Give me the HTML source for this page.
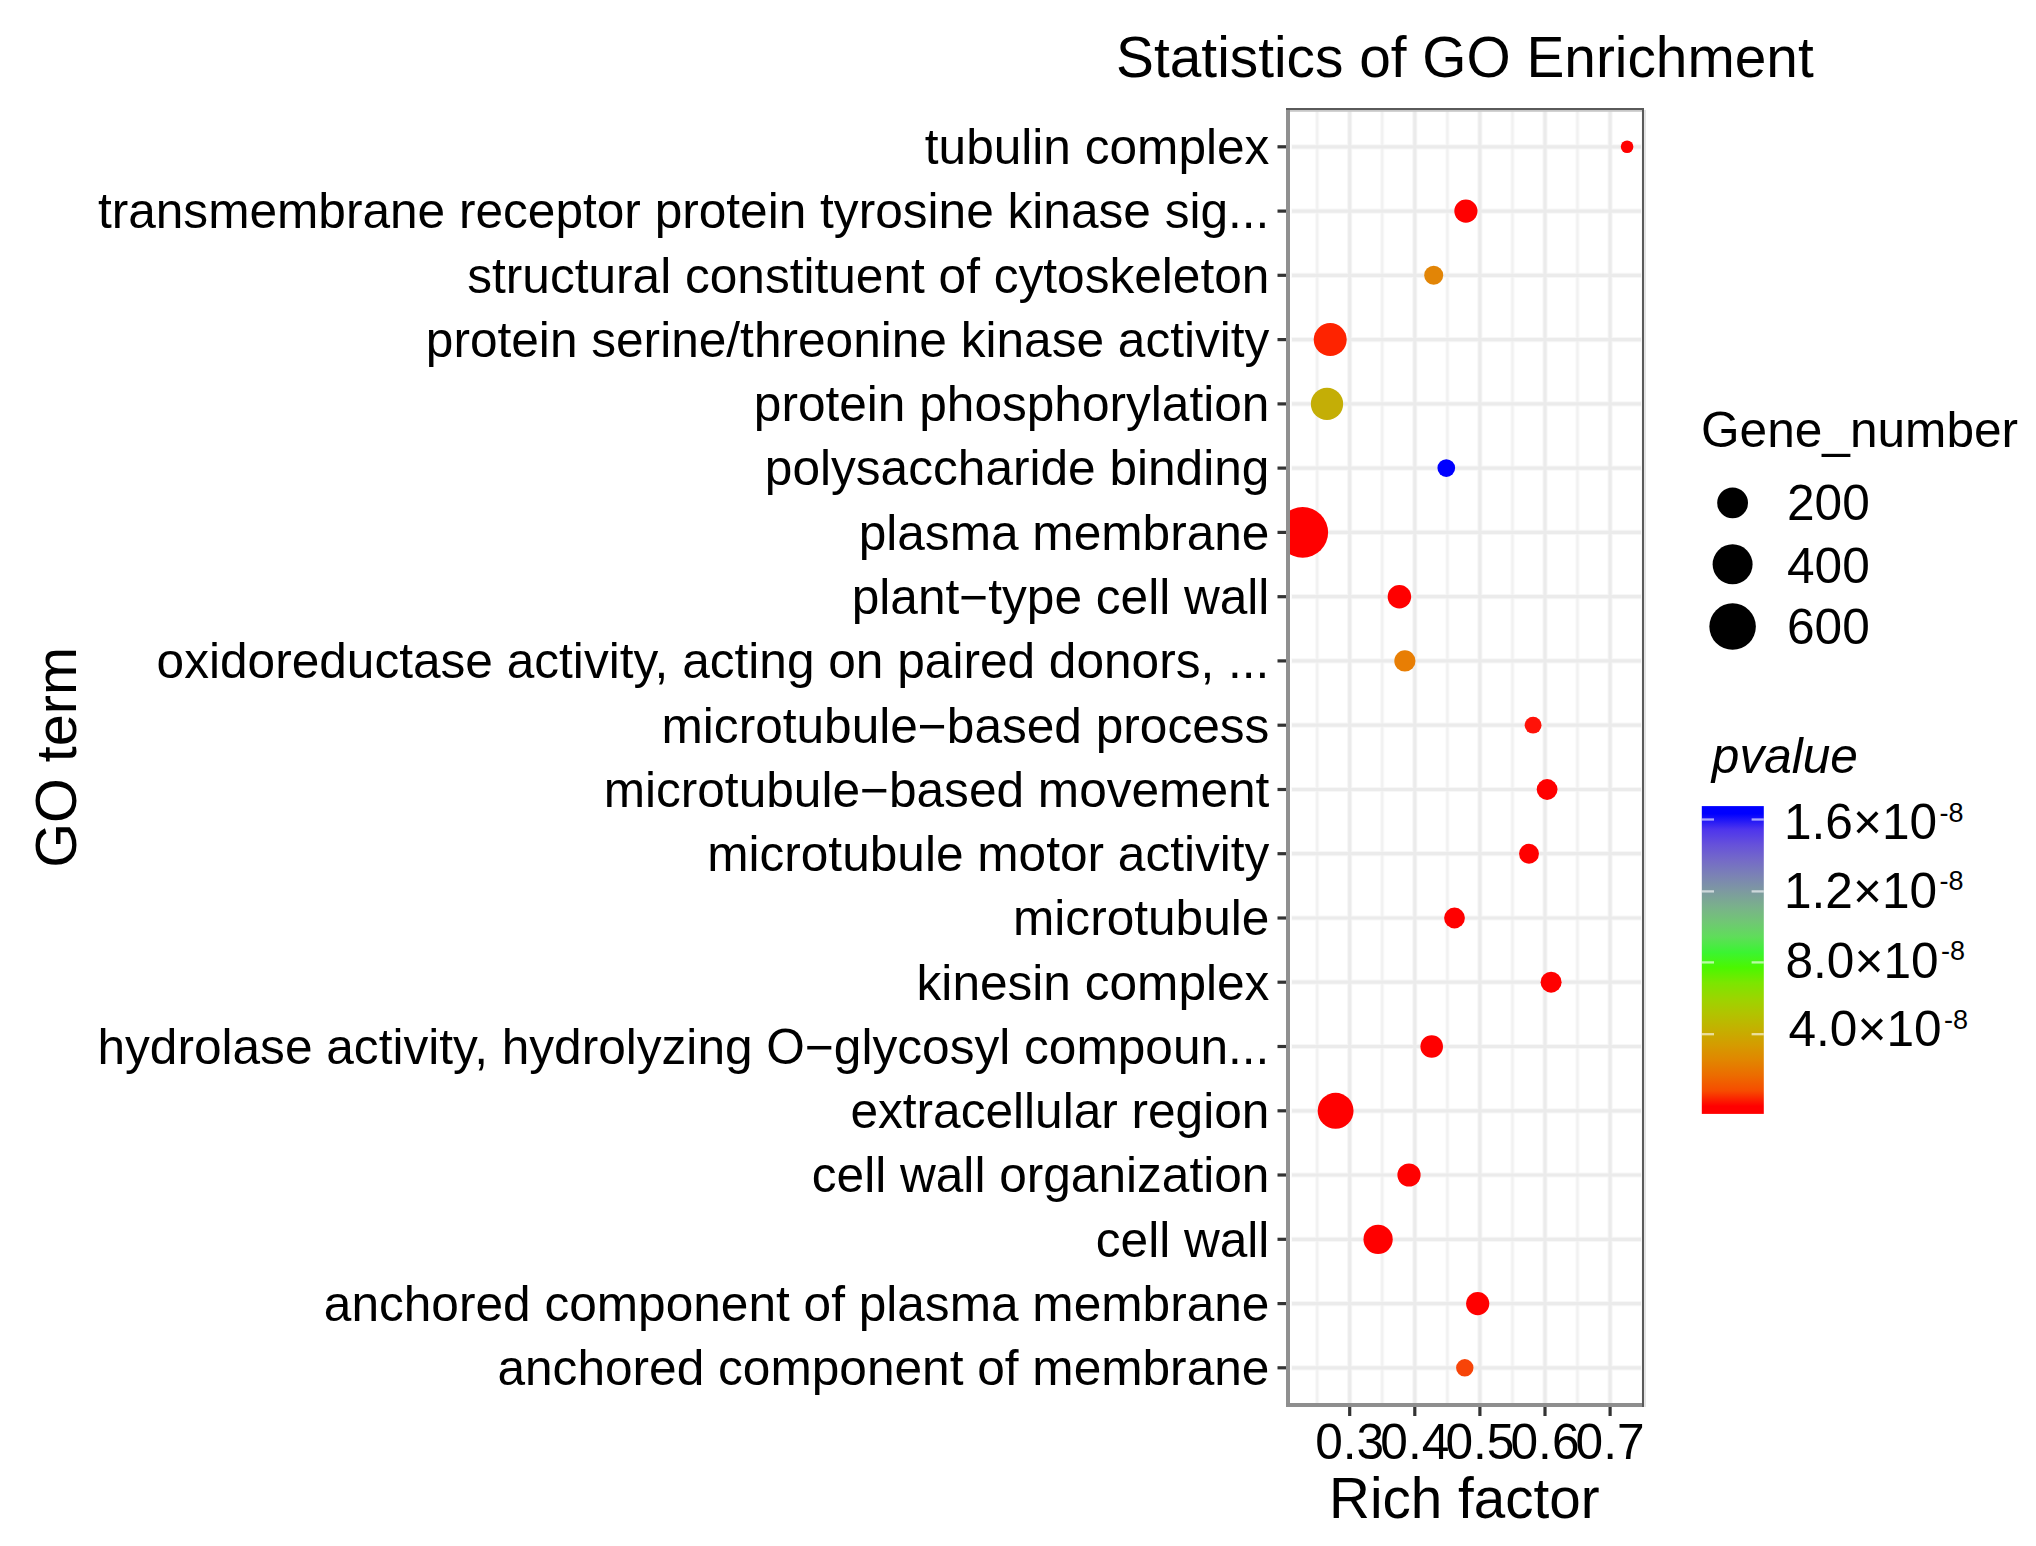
<!DOCTYPE html>
<html lang="en"><head><meta charset="utf-8"><title>Statistics of GO Enrichment</title>
<style>html,body{margin:0;padding:0;background:#fff}body{width:2036px;height:1546px;overflow:hidden}svg{display:block}text{font-family:"Liberation Sans", Arial, sans-serif;fill:#000}</style>
</head><body>
<svg width="2036" height="1546" viewBox="0 0 2036 1546">
<rect width="2036" height="1546" fill="#fff"/>
<defs><clipPath id="pc"><rect x="1288.0" y="109.5" width="355.0" height="1295.5"/></clipPath>
<linearGradient id="cb" x1="0" y1="1" x2="0" y2="0">
<stop offset="0.000" stop-color="#ff0000"/>
<stop offset="0.025" stop-color="#ff0000"/>
<stop offset="0.075" stop-color="#f64c00"/>
<stop offset="0.125" stop-color="#ec6c00"/>
<stop offset="0.175" stop-color="#e18600"/>
<stop offset="0.225" stop-color="#d49c00"/>
<stop offset="0.275" stop-color="#c4b000"/>
<stop offset="0.325" stop-color="#b2c300"/>
<stop offset="0.375" stop-color="#9bd500"/>
<stop offset="0.425" stop-color="#7ce600"/>
<stop offset="0.475" stop-color="#4bf700"/>
<stop offset="0.525" stop-color="#3bf432"/>
<stop offset="0.575" stop-color="#5fdd5a"/>
<stop offset="0.625" stop-color="#71c675"/>
<stop offset="0.675" stop-color="#7ab08c"/>
<stop offset="0.725" stop-color="#7d99a1"/>
<stop offset="0.775" stop-color="#7b82b5"/>
<stop offset="0.825" stop-color="#746ac8"/>
<stop offset="0.875" stop-color="#6651da"/>
<stop offset="0.925" stop-color="#4d34ed"/>
<stop offset="0.975" stop-color="#0000ff"/>
<stop offset="1.000" stop-color="#0000ff"/>
</linearGradient></defs>
<g fill="none">
<line x1="1317.2" x2="1317.2" y1="110.5" y2="1403.0" stroke="#f9f9f9" stroke-width="4.2"/>
<line x1="1382.2" x2="1382.2" y1="110.5" y2="1403.0" stroke="#f9f9f9" stroke-width="4.2"/>
<line x1="1447.4" x2="1447.4" y1="110.5" y2="1403.0" stroke="#f9f9f9" stroke-width="4.2"/>
<line x1="1512.5" x2="1512.5" y1="110.5" y2="1403.0" stroke="#f9f9f9" stroke-width="4.2"/>
<line x1="1577.5" x2="1577.5" y1="110.5" y2="1403.0" stroke="#f9f9f9" stroke-width="4.2"/>
<line x1="1349.7" x2="1349.7" y1="110.5" y2="1403.0" stroke="#f7f7f7" stroke-width="5.2"/>
<line x1="1414.8" x2="1414.8" y1="110.5" y2="1403.0" stroke="#f7f7f7" stroke-width="5.2"/>
<line x1="1479.9" x2="1479.9" y1="110.5" y2="1403.0" stroke="#f7f7f7" stroke-width="5.2"/>
<line x1="1545.0" x2="1545.0" y1="110.5" y2="1403.0" stroke="#f7f7f7" stroke-width="5.2"/>
<line x1="1610.1" x2="1610.1" y1="110.5" y2="1403.0" stroke="#f7f7f7" stroke-width="5.2"/>
<line x1="1291.5" x2="1641.5" y1="146.8" y2="146.8" stroke="#f7f7f7" stroke-width="5.2"/>
<line x1="1291.5" x2="1641.5" y1="211.1" y2="211.1" stroke="#f7f7f7" stroke-width="5.2"/>
<line x1="1291.5" x2="1641.5" y1="275.3" y2="275.3" stroke="#f7f7f7" stroke-width="5.2"/>
<line x1="1291.5" x2="1641.5" y1="339.6" y2="339.6" stroke="#f7f7f7" stroke-width="5.2"/>
<line x1="1291.5" x2="1641.5" y1="403.9" y2="403.9" stroke="#f7f7f7" stroke-width="5.2"/>
<line x1="1291.5" x2="1641.5" y1="468.1" y2="468.1" stroke="#f7f7f7" stroke-width="5.2"/>
<line x1="1291.5" x2="1641.5" y1="532.4" y2="532.4" stroke="#f7f7f7" stroke-width="5.2"/>
<line x1="1291.5" x2="1641.5" y1="596.7" y2="596.7" stroke="#f7f7f7" stroke-width="5.2"/>
<line x1="1291.5" x2="1641.5" y1="660.9" y2="660.9" stroke="#f7f7f7" stroke-width="5.2"/>
<line x1="1291.5" x2="1641.5" y1="725.2" y2="725.2" stroke="#f7f7f7" stroke-width="5.2"/>
<line x1="1291.5" x2="1641.5" y1="789.5" y2="789.5" stroke="#f7f7f7" stroke-width="5.2"/>
<line x1="1291.5" x2="1641.5" y1="853.7" y2="853.7" stroke="#f7f7f7" stroke-width="5.2"/>
<line x1="1291.5" x2="1641.5" y1="918.0" y2="918.0" stroke="#f7f7f7" stroke-width="5.2"/>
<line x1="1291.5" x2="1641.5" y1="982.2" y2="982.2" stroke="#f7f7f7" stroke-width="5.2"/>
<line x1="1291.5" x2="1641.5" y1="1046.5" y2="1046.5" stroke="#f7f7f7" stroke-width="5.2"/>
<line x1="1291.5" x2="1641.5" y1="1110.8" y2="1110.8" stroke="#f7f7f7" stroke-width="5.2"/>
<line x1="1291.5" x2="1641.5" y1="1175.0" y2="1175.0" stroke="#f7f7f7" stroke-width="5.2"/>
<line x1="1291.5" x2="1641.5" y1="1239.3" y2="1239.3" stroke="#f7f7f7" stroke-width="5.2"/>
<line x1="1291.5" x2="1641.5" y1="1303.6" y2="1303.6" stroke="#f7f7f7" stroke-width="5.2"/>
<line x1="1291.5" x2="1641.5" y1="1367.8" y2="1367.8" stroke="#f7f7f7" stroke-width="5.2"/>
<line x1="1317.2" x2="1317.2" y1="109.5" y2="1405.0" stroke="#f1f1f1" stroke-width="2.2"/>
<line x1="1382.2" x2="1382.2" y1="109.5" y2="1405.0" stroke="#f1f1f1" stroke-width="2.2"/>
<line x1="1447.4" x2="1447.4" y1="109.5" y2="1405.0" stroke="#f1f1f1" stroke-width="2.2"/>
<line x1="1512.5" x2="1512.5" y1="109.5" y2="1405.0" stroke="#f1f1f1" stroke-width="2.2"/>
<line x1="1577.5" x2="1577.5" y1="109.5" y2="1405.0" stroke="#f1f1f1" stroke-width="2.2"/>
<line x1="1642.7" x2="1642.7" y1="109.5" y2="1405.0" stroke="#f1f1f1" stroke-width="2.2"/>
<line x1="1349.7" x2="1349.7" y1="109.5" y2="1405.0" stroke="#ebebeb" stroke-width="3.2"/>
<line x1="1414.8" x2="1414.8" y1="109.5" y2="1405.0" stroke="#ebebeb" stroke-width="3.2"/>
<line x1="1479.9" x2="1479.9" y1="109.5" y2="1405.0" stroke="#ebebeb" stroke-width="3.2"/>
<line x1="1545.0" x2="1545.0" y1="109.5" y2="1405.0" stroke="#ebebeb" stroke-width="3.2"/>
<line x1="1610.1" x2="1610.1" y1="109.5" y2="1405.0" stroke="#ebebeb" stroke-width="3.2"/>
<line x1="1292.0" x2="1641.0" y1="146.8" y2="146.8" stroke="#ebebeb" stroke-width="3.2"/>
<line x1="1292.0" x2="1641.0" y1="211.1" y2="211.1" stroke="#ebebeb" stroke-width="3.2"/>
<line x1="1292.0" x2="1641.0" y1="275.3" y2="275.3" stroke="#ebebeb" stroke-width="3.2"/>
<line x1="1292.0" x2="1641.0" y1="339.6" y2="339.6" stroke="#ebebeb" stroke-width="3.2"/>
<line x1="1292.0" x2="1641.0" y1="403.9" y2="403.9" stroke="#ebebeb" stroke-width="3.2"/>
<line x1="1292.0" x2="1641.0" y1="468.1" y2="468.1" stroke="#ebebeb" stroke-width="3.2"/>
<line x1="1292.0" x2="1641.0" y1="532.4" y2="532.4" stroke="#ebebeb" stroke-width="3.2"/>
<line x1="1292.0" x2="1641.0" y1="596.7" y2="596.7" stroke="#ebebeb" stroke-width="3.2"/>
<line x1="1292.0" x2="1641.0" y1="660.9" y2="660.9" stroke="#ebebeb" stroke-width="3.2"/>
<line x1="1292.0" x2="1641.0" y1="725.2" y2="725.2" stroke="#ebebeb" stroke-width="3.2"/>
<line x1="1292.0" x2="1641.0" y1="789.5" y2="789.5" stroke="#ebebeb" stroke-width="3.2"/>
<line x1="1292.0" x2="1641.0" y1="853.7" y2="853.7" stroke="#ebebeb" stroke-width="3.2"/>
<line x1="1292.0" x2="1641.0" y1="918.0" y2="918.0" stroke="#ebebeb" stroke-width="3.2"/>
<line x1="1292.0" x2="1641.0" y1="982.2" y2="982.2" stroke="#ebebeb" stroke-width="3.2"/>
<line x1="1292.0" x2="1641.0" y1="1046.5" y2="1046.5" stroke="#ebebeb" stroke-width="3.2"/>
<line x1="1292.0" x2="1641.0" y1="1110.8" y2="1110.8" stroke="#ebebeb" stroke-width="3.2"/>
<line x1="1292.0" x2="1641.0" y1="1175.0" y2="1175.0" stroke="#ebebeb" stroke-width="3.2"/>
<line x1="1292.0" x2="1641.0" y1="1239.3" y2="1239.3" stroke="#ebebeb" stroke-width="3.2"/>
<line x1="1292.0" x2="1641.0" y1="1303.6" y2="1303.6" stroke="#ebebeb" stroke-width="3.2"/>
<line x1="1292.0" x2="1641.0" y1="1367.8" y2="1367.8" stroke="#ebebeb" stroke-width="3.2"/>
</g>
<g clip-path="url(#pc)">
<circle cx="1627.1" cy="146.8" r="6.30" fill="#ff0000"/>
<circle cx="1465.9" cy="211.1" r="11.60" fill="#ff0000"/>
<circle cx="1433.7" cy="275.3" r="9.50" fill="#e28506"/>
<circle cx="1330.2" cy="339.6" r="16.50" fill="#fe2300"/>
<circle cx="1327.0" cy="403.9" r="16.15" fill="#c4ae06"/>
<circle cx="1446.3" cy="468.1" r="8.85" fill="#0000ff"/>
<circle cx="1302.7" cy="532.4" r="25.40" fill="#ff0000"/>
<circle cx="1399.4" cy="596.7" r="11.75" fill="#ff0000"/>
<circle cx="1404.9" cy="660.9" r="10.60" fill="#e87e04"/>
<circle cx="1533.1" cy="725.2" r="8.40" fill="#ff1208"/>
<circle cx="1547.1" cy="789.5" r="10.40" fill="#ff0000"/>
<circle cx="1529.0" cy="853.7" r="9.95" fill="#ff0000"/>
<circle cx="1454.5" cy="918.0" r="10.40" fill="#ff0000"/>
<circle cx="1551.1" cy="982.2" r="10.50" fill="#ff0000"/>
<circle cx="1431.7" cy="1046.5" r="11.30" fill="#ff0000"/>
<circle cx="1335.6" cy="1110.8" r="17.95" fill="#ff0000"/>
<circle cx="1409.0" cy="1175.0" r="11.60" fill="#ff0000"/>
<circle cx="1378.1" cy="1239.3" r="14.65" fill="#ff0000"/>
<circle cx="1477.7" cy="1303.6" r="11.60" fill="#ff0000"/>
<circle cx="1464.8" cy="1367.8" r="8.70" fill="#f74408"/>
</g>
<rect x="1286" y="108" width="4" height="1299" fill="#909090"/>
<rect x="1286" y="1403" width="360" height="4" fill="#8e8e8e"/>
<rect x="1286" y="108" width="358" height="2" fill="#5a5a5a"/>
<rect x="1290" y="110" width="352" height="1.8" fill="#c8c8c8"/>
<rect x="1642" y="108" width="2" height="1299" fill="#5a5a5a"/>
<rect x="1644" y="110" width="2" height="1297" fill="#e4e4e4"/>
<g stroke="#333" stroke-width="3.2">
<line x1="1277.5" x2="1286" y1="146.8" y2="146.8"/>
<line x1="1277.5" x2="1286" y1="211.1" y2="211.1"/>
<line x1="1277.5" x2="1286" y1="275.3" y2="275.3"/>
<line x1="1277.5" x2="1286" y1="339.6" y2="339.6"/>
<line x1="1277.5" x2="1286" y1="403.9" y2="403.9"/>
<line x1="1277.5" x2="1286" y1="468.1" y2="468.1"/>
<line x1="1277.5" x2="1286" y1="532.4" y2="532.4"/>
<line x1="1277.5" x2="1286" y1="596.7" y2="596.7"/>
<line x1="1277.5" x2="1286" y1="660.9" y2="660.9"/>
<line x1="1277.5" x2="1286" y1="725.2" y2="725.2"/>
<line x1="1277.5" x2="1286" y1="789.5" y2="789.5"/>
<line x1="1277.5" x2="1286" y1="853.7" y2="853.7"/>
<line x1="1277.5" x2="1286" y1="918.0" y2="918.0"/>
<line x1="1277.5" x2="1286" y1="982.2" y2="982.2"/>
<line x1="1277.5" x2="1286" y1="1046.5" y2="1046.5"/>
<line x1="1277.5" x2="1286" y1="1110.8" y2="1110.8"/>
<line x1="1277.5" x2="1286" y1="1175.0" y2="1175.0"/>
<line x1="1277.5" x2="1286" y1="1239.3" y2="1239.3"/>
<line x1="1277.5" x2="1286" y1="1303.6" y2="1303.6"/>
<line x1="1277.5" x2="1286" y1="1367.8" y2="1367.8"/>
<line x1="1349.7" x2="1349.7" y1="1407" y2="1416"/>
<line x1="1414.8" x2="1414.8" y1="1407" y2="1416"/>
<line x1="1479.9" x2="1479.9" y1="1407" y2="1416"/>
<line x1="1545.0" x2="1545.0" y1="1407" y2="1416"/>
<line x1="1610.1" x2="1610.1" y1="1407" y2="1416"/>
</g>
<g font-size="49.60" text-anchor="end">
<text x="1269.4" y="164.1">tubulin complex</text>
<text x="1269.4" y="228.4">transmembrane receptor protein tyrosine kinase sig...</text>
<text x="1269.4" y="292.6">structural constituent of cytoskeleton</text>
<text x="1269.4" y="356.9">protein serine/threonine kinase activity</text>
<text x="1269.4" y="421.2">protein phosphorylation</text>
<text x="1269.4" y="485.4">polysaccharide binding</text>
<text x="1269.4" y="549.7">plasma membrane</text>
<text x="1269.4" y="614.0">plant−type cell wall</text>
<text x="1269.4" y="678.2">oxidoreductase activity, acting on paired donors, ...</text>
<text x="1269.4" y="742.5">microtubule−based process</text>
<text x="1269.4" y="806.8">microtubule−based movement</text>
<text x="1269.4" y="871.0">microtubule motor activity</text>
<text x="1269.4" y="935.3">microtubule</text>
<text x="1269.4" y="999.5">kinesin complex</text>
<text x="1269.4" y="1063.8">hydrolase activity, hydrolyzing O−glycosyl compoun...</text>
<text x="1269.4" y="1128.1">extracellular region</text>
<text x="1269.4" y="1192.3">cell wall organization</text>
<text x="1269.4" y="1256.6">cell wall</text>
<text x="1269.4" y="1320.9">anchored component of plasma membrane</text>
<text x="1269.4" y="1385.1">anchored component of membrane</text>
</g>
<g font-size="49.60" text-anchor="middle">
<text x="1349.7" y="1458.6">0.3</text>
<text x="1414.8" y="1458.6">0.4</text>
<text x="1479.9" y="1458.6">0.5</text>
<text x="1545.0" y="1458.6">0.6</text>
<text x="1610.1" y="1458.6">0.7</text>
</g>
<text x="1464.9" y="76.7" font-size="56.80" text-anchor="middle">Statistics of GO Enrichment</text>
<text x="1464.3" y="1517.6" font-size="56.60" text-anchor="middle">Rich factor</text>
<text transform="translate(76.0,757.4) rotate(-90)" font-size="57.60" text-anchor="middle">GO term</text>
<text x="1701" y="447" font-size="49.60">Gene_number</text>
<circle cx="1732.6" cy="502.9" r="15.40" fill="#000"/>
<text x="1787" y="520.3" font-size="49.60">200</text>
<circle cx="1732.6" cy="564.3" r="20.00" fill="#000"/>
<text x="1787" y="582.5" font-size="49.60">400</text>
<circle cx="1732.6" cy="626.6" r="23.25" fill="#000"/>
<text x="1787" y="643.6" font-size="49.60">600</text>
<text x="1711.8" y="773" font-size="49.60" font-style="italic">pvalue</text>
<rect x="1701.8" y="806.1" width="62" height="307.8" fill="url(#cb)"/>
<g stroke="#fff" stroke-opacity="0.62" stroke-width="2.3">
<line x1="1701.8" x2="1714" y1="819.5" y2="819.5"/><line x1="1751.6" x2="1763.8" y1="819.5" y2="819.5"/>
<line x1="1701.8" x2="1714" y1="891.4" y2="891.4"/><line x1="1751.6" x2="1763.8" y1="891.4" y2="891.4"/>
<line x1="1701.8" x2="1714" y1="962.4" y2="962.4"/><line x1="1751.6" x2="1763.8" y1="962.4" y2="962.4"/>
<line x1="1701.8" x2="1714" y1="1034.2" y2="1034.2"/><line x1="1751.6" x2="1763.8" y1="1034.2" y2="1034.2"/>
</g>
<text x="1784.0" y="839.3" font-size="49.60">1.6×10<tspan font-size="27" dy="-17.5" dx="2.4">-8</tspan></text>
<text x="1784.0" y="907.9" font-size="49.60">1.2×10<tspan font-size="27" dy="-17.5" dx="2.4">-8</tspan></text>
<text x="1785.5" y="977.5" font-size="49.60">8.0×10<tspan font-size="27" dy="-17.5" dx="2.4">-8</tspan></text>
<text x="1788.5" y="1046.0" font-size="49.60">4.0×10<tspan font-size="27" dy="-17.5" dx="2.4">-8</tspan></text>
</svg>
</body></html>
